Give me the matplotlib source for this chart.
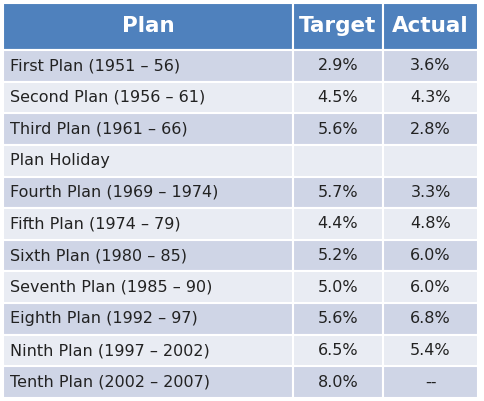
import matplotlib
matplotlib.use("Agg")
import matplotlib.pyplot as plt
from matplotlib.patches import Rectangle

headers = ["Plan", "Target", "Actual"]
plans = ["First Plan (1951 – 56)", "Second Plan (1956 – 61)", "Third Plan (1961 – 66)",
         "Plan Holiday", "Fourth Plan (1969 – 1974)", "Fifth Plan (1974 – 79)",
         "Sixth Plan (1980 – 85)", "Seventh Plan (1985 – 90)", "Eighth Plan (1992 – 97)",
         "Ninth Plan (1997 – 2002)", "Tenth Plan (2002 – 2007)"]
target = ["2.9%", "4.5%", "5.6%", "", "5.7%", "4.4%", "5.2%", "5.0%", "5.6%", "6.5%", "8.0%"]
actual = ["3.6%", "4.3%", "2.8%", "", "3.3%", "4.8%", "6.0%", "6.0%", "6.8%", "5.4%", "--"]

W, H = 484, 401
fig = plt.figure(figsize=(W/100, H/100), dpi=100)
ax = fig.add_axes([0, 0, 1, 1])
ax.set_xlim(0, W); ax.set_ylim(H, 0); ax.axis("off")

cols = [3, 293, 383, 478]
top, hdr_h = 3, 47
row_h = (398 - top - hdr_h) / len(plans)

for c in range(3):
    ax.add_patch(Rectangle((cols[c], top), cols[c+1]-cols[c], hdr_h, fc="#4f81bd", ec="white", lw=1.5))
    ax.text((cols[c]+cols[c+1])/2, top+hdr_h/2, headers[c], color="white", fontsize=15.5,
            fontweight="bold", ha="center", va="center")

for i, (p, t, a) in enumerate(zip(plans, target, actual)):
    y = top + hdr_h + i*row_h
    fc = "#cfd5e6" if i % 2 == 0 else "#e9ecf3"
    for c in range(3):
        ax.add_patch(Rectangle((cols[c], y), cols[c+1]-cols[c], row_h, fc=fc, ec="white", lw=1.5))
    ax.text(cols[0]+7, y+row_h/2, p, fontsize=11.5, va="center", ha="left", color="#222222")
    ax.text((cols[1]+cols[2])/2, y+row_h/2, t, fontsize=11.5, va="center", ha="center", color="#222222")
    ax.text((cols[2]+cols[3])/2, y+row_h/2, a, fontsize=11.5, va="center", ha="center", color="#222222")

fig.savefig("out.png", dpi=100, facecolor="white")
